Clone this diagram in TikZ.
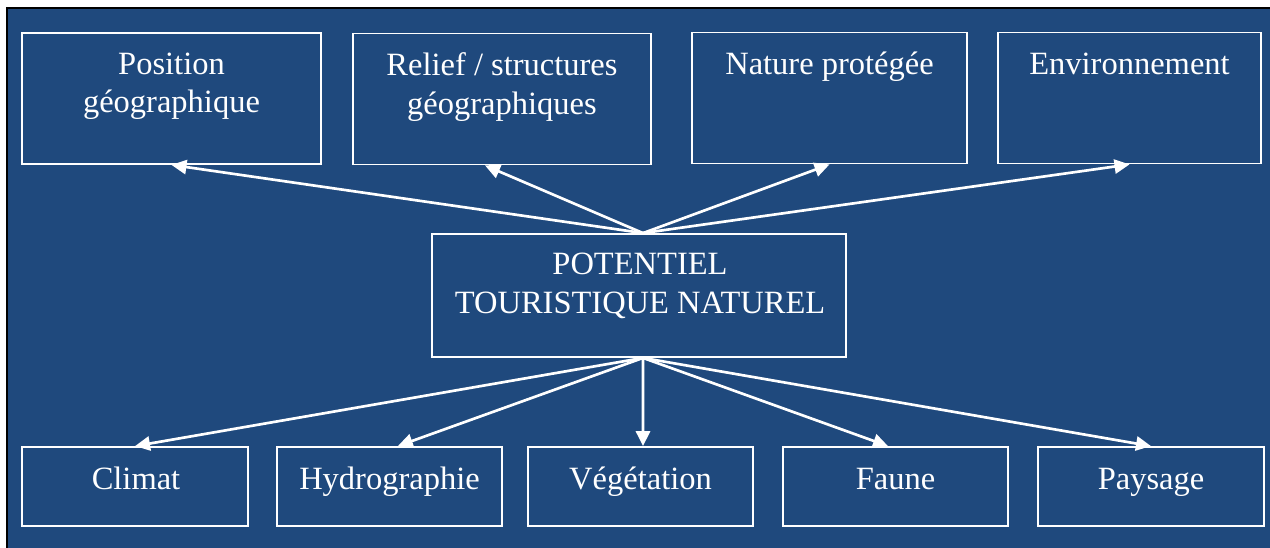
\documentclass[tikz,border=0pt]{standalone}
\usepackage{fontspec}
\setmainfont{Liberation Serif}
\usetikzlibrary{arrows.meta,positioning}

\definecolor{fondbleu}{RGB}{31,73,125}

\begin{document}
\begin{tikzpicture}[
    x=0.6pt, y=-0.6pt,
    box/.style={draw=white, line width=1.1pt, inner sep=0pt},
    box-haut/.style={box, minimum height=78.6pt},
    box-bas/.style={box, minimum width=135.3pt, minimum height=47.4pt},
    txt/.style={text=white, font=\fontsize{19.5}{23}\selectfont, align=center, anchor=base, inner sep=0pt},
    txt2/.style={txt, anchor=north},
    fleche/.style={draw=white, line width=1.6pt, -{Triangle[length=9pt, width=8.5pt]}}
]

    % Background
    \useasboundingbox (0,0) rectangle (1270,547);
    \draw[black, line width=1.3pt, fill=fondbleu] (7,8) rectangle (1280,560);

    % Top row
    \node[box-haut, minimum width=179.4pt] (pos) at (171.5,98.5) {};
    \node[txt2] (pos-t) at (171.5,52.5) {Position\\géographique};

    \node[box-haut, minimum width=178.8pt] (rel) at (502,99) {};
    \node[txt2] (rel-t) at (502,52.5) {Relief / structures\\géographiques};

    \node[box-haut, minimum width=165pt] (nat) at (829.5,98) {};
    \node[txt] (nat-t) at (829.5,74.5) {Nature protégée};

    \node[box-haut, minimum width=157.8pt] (env) at (1129.5,98) {};
    \node[txt] (env-t) at (1129.5,74.5) {Environnement};

    % Centre
    \node[box, minimum width=248.4pt, minimum height=73.8pt] (pot) at (639,295.5) {};
    \node[txt2] (pot-t) at (640,253) {POTENTIEL\\TOURISTIQUE NATUREL};

    % Bottom row
    \node[box-bas] (cli) at (135,486.5) {};
    \node[txt] (cli-t) at (136,489) {Climat};

    \node[box-bas] (hyd) at (389.5,486.5) {};
    \node[txt] (hyd-t) at (389.5,489) {Hydrographie};

    \node[box-bas] (veg) at (640.5,486.5) {};
    \node[txt] (veg-t) at (640.5,489) {Végétation};

    \node[box-bas] (fau) at (895.5,486.5) {};
    \node[txt] (fau-t) at (895.5,489) {Faune};

    \node[box-bas] (pay) at (1151,486.5) {};
    \node[txt] (pay-t) at (1151,489) {Paysage};

    % Arrows
    \coordinate (haut) at ([xshift=2.4pt]pot.north);
    \coordinate (bas) at ([xshift=2.4pt]pot.south);
    \draw[fleche] (haut) -- (pos.south);
    \draw[fleche] (haut) -- ([xshift=-10.2pt]rel.south);
    \draw[fleche] (haut) -- (nat.south);
    \draw[fleche] (haut) -- (env.south);

    \draw[fleche] (bas) -- (cli.north);
    \draw[fleche] (bas) -- ([xshift=5pt]hyd.north);
    \draw[fleche] (bas) -- ([xshift=1.5pt]veg.north);
    \draw[fleche] (bas) -- ([xshift=-4.5pt]fau.north);
    \draw[fleche] (bas) -- (pay.north);

\end{tikzpicture}
\end{document}
